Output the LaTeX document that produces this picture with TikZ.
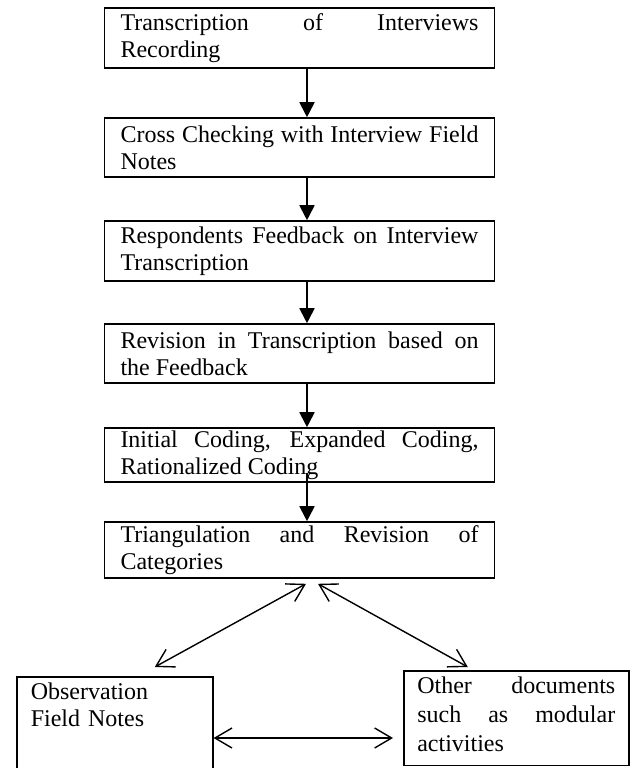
\documentclass[tikz,border=0pt]{standalone}
\usepackage{fontspec}
\setmainfont{Liberation Serif}
\usetikzlibrary{arrows.meta}

\tikzset{
  stage/.style={draw, line width=0.8pt, text width=179pt, inner xsep=8pt, inner ysep=1pt,
    align=justify, font={\fontsize{12}{13.5}\selectfont\hyphenpenalty=10000 \tolerance=10000}},
  source/.style={draw, line width=0.8pt, inner ysep=3pt, anchor=north west,
    font={\fontsize{12}{13.5}\selectfont\hyphenpenalty=10000 \tolerance=10000}},
  flow/.style={line width=0.9pt, -{Triangle[length=7.5pt,width=7.5pt]}},
  link/.style={line width=0.7pt, {Straight Barb[length=8.5pt,width=10pt]}-{Straight Barb[length=8.5pt,width=10pt]}}
}

\begin{document}
\begin{tikzpicture}[x=0.5pt,y=-0.5pt]
\clip (0,0) rectangle (634,768);

\node [stage,minimum height=30pt] (rec) at (299.5,38) {Transcription of Interviews\linebreak Recording};
\node [stage,minimum height=29.5pt] (cross) at (299.5,147.5) {Cross Checking with Interview Field\linebreak Notes};
\node [stage,minimum height=30pt] (feed) at (299.5,251) {Respondents Feedback on Interview\linebreak Transcription};
\node [stage,minimum height=29.5pt] (rev) at (299.5,353.5) {Revision in Transcription based on\linebreak the Feedback};
\node [stage,minimum height=27pt] (code) at (299.5,455) {Initial Coding, Expanded Coding,\linebreak Rationalized Coding};
\node [stage,minimum height=28pt] (tri) at (299.5,550) {Triangulation and Revision of\linebreak Categories};

\node [source,text width=84pt,inner xsep=7pt,align=left,text depth=38pt] (obs) at (16,676) {Observation\\Field Notes};
\node [source,text width=99pt,inner xsep=6.75pt,align=justify,text depth=33pt,
  font={\fontsize{12}{14.5}\selectfont\hyphenpenalty=10000 \tolerance=10000}] (doc) at (403,670)
  {Other documents\linebreak such as modular\linebreak activities};

% flow of the stages
\coordinate (ax) at (307,0);
\foreach \a/\b in {rec/cross,cross/feed,feed/rev,rev/code}
  \draw [flow] (\a.south -| ax) -- (\b.north -| ax);
\coordinate (cs) at ([yshift=5pt]code.south);
\draw [flow] (cs -| ax) -- (tri.north -| ax);

% triangulation links
\draw [link] ([xshift=3.25pt,yshift=-2.5pt]tri.south) -- ([xshift=20pt,yshift=4.5pt]obs.north);
\draw [link] ([xshift=9.25pt,yshift=-2.5pt]tri.south) -- ([xshift=-24.25pt,yshift=1.5pt]doc.north);
\coordinate (hy) at (0,738);
\coordinate (dw) at ([xshift=-5pt]doc.west);
\draw [link] (obs.east |- hy) -- (dw |- hy);
\end{tikzpicture}
\end{document}
